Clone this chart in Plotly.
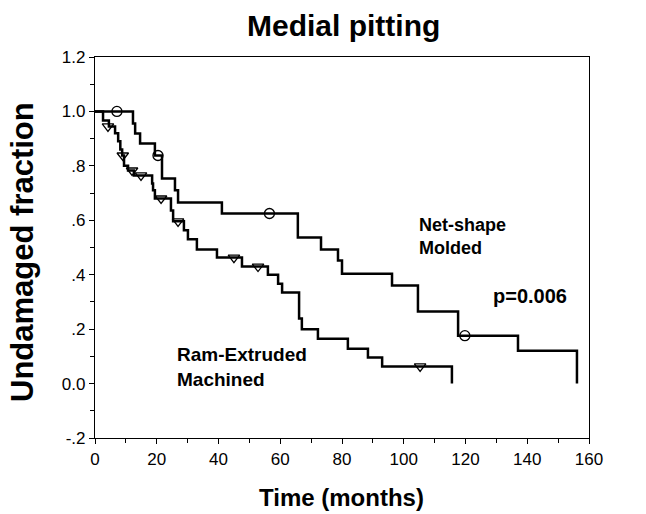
import plotly.graph_objects as go

# Net-shape Molded (Kaplan-Meier steps)
molded_t = [0, 12.3, 13.0, 14.6, 19.4, 21.7, 25.9, 26.9, 41.1, 65.7, 73.2, 78.7, 80.0, 96.2, 104.6, 117.6, 137.0, 156.1]
molded_v = [1.0, 0.956, 0.919, 0.882, 0.838, 0.754, 0.71, 0.665, 0.625, 0.537, 0.493, 0.452, 0.404, 0.36, 0.265, 0.176, 0.121, 0.0]
molded_cens_t = [7.1, 20.4, 56.5, 119.8]
molded_cens_v = [1.0, 0.838, 0.625, 0.176]

# Ram-Extruded Machined
ram_t = [0, 2.6, 4.5, 6.5, 7.5, 8.2, 8.8, 9.4, 10.7, 12.6, 18.5, 18.8, 19.4, 24.6, 25.3, 28.8, 30.1, 33.0, 39.5,
         47.6, 56.0, 59.3, 60.6, 66.1, 67.0, 72.2, 81.9, 88.4, 93.0, 115.6]
ram_v = [1.0, 0.967, 0.945, 0.92, 0.89, 0.86, 0.838, 0.80, 0.783, 0.765, 0.735, 0.71, 0.68, 0.636, 0.596, 0.563, 0.53, 0.493, 0.463,
         0.43, 0.40, 0.367, 0.335, 0.239, 0.2, 0.165, 0.128, 0.096, 0.063, 0.0]
ram_cens_t = [4.2, 9.0, 12.0, 14.9, 21.4, 26.9, 45.0, 52.8, 105.3]
ram_cens_v = [0.945, 0.838, 0.783, 0.765, 0.68, 0.596, 0.463, 0.43, 0.063]

y_tickvals = [-0.2, 0.0, 0.2, 0.4, 0.6, 0.8, 1.0, 1.2]
y_ticktext = ["-.2", "0.0", ".2", ".4", ".6", ".8", "1.0", "1.2"]
x_tickvals = [0, 20, 40, 60, 80, 100, 120, 140, 160]

FONT = "Liberation Sans, Arial, sans-serif"

fig = go.Figure()
line = dict(color="black", width=2.5, shape="hv")
fig.add_trace(go.Scatter(x=molded_t, y=molded_v, mode="lines", line=line, showlegend=False))
fig.add_trace(go.Scatter(x=ram_t, y=ram_v, mode="lines", line=line, showlegend=False))
fig.add_trace(go.Scatter(x=molded_cens_t, y=molded_cens_v, mode="markers",
                         marker=dict(symbol="circle-open", size=10, color="black", line=dict(width=1.3)),
                         showlegend=False))
fig.add_trace(go.Scatter(x=ram_cens_t, y=ram_cens_v, mode="markers",
                         marker=dict(symbol="triangle-down-open", size=10, color="black", line=dict(width=1.3)),
                         showlegend=False))

axis_common = dict(showgrid=False, zeroline=False, showline=True, linecolor="black", linewidth=1.2,
                   mirror=True, ticks="outside", ticklen=5, tickwidth=1, tickcolor="black",
                   tickfont=dict(family=FONT, size=17, color="black"))
fig.update_xaxes(range=[0, 160], tickvals=x_tickvals,
                 minor=dict(ticks="outside", dtick=10, ticklen=4, tickcolor="black"), **axis_common)
fig.update_yaxes(range=[-0.2, 1.2], tickvals=y_tickvals, ticktext=y_ticktext,
                 minor=dict(ticks="outside", dtick=0.1, ticklen=4, tickcolor="black"), **axis_common)

annots = [
    dict(text="<b>Medial pitting</b>", x=0.504, y=1.082, xref="paper", yref="paper", showarrow=False,
         xanchor="center", yanchor="middle", font=dict(family=FONT, size=30, color="black")),
    dict(text="<b>Time (months)</b>", x=0.498, y=-0.155, xref="paper", yref="paper", showarrow=False,
         xanchor="center", yanchor="middle", font=dict(family=FONT, size=24, color="black")),
    dict(text="<b>Undamaged fraction</b>", x=-0.148, y=0.488, xref="paper", yref="paper", showarrow=False,
         xanchor="center", yanchor="middle", textangle=-90, font=dict(family=FONT, size=31, color="black")),
    dict(text="<b>Net-shape<br>Molded</b>", x=104.3, y=0.539, xref="x", yref="y", showarrow=False,
         xanchor="left", yanchor="middle", align="left", font=dict(family=FONT, size=18, color="black")),
    dict(text="<b>p=0.006</b>", x=140.9, y=0.32, xref="x", yref="y", showarrow=False,
         xanchor="center", yanchor="middle", font=dict(family=FONT, size=20, color="black")),
    dict(text="<b>Ram-Extruded<br>Machined</b>", x=25.9, y=0.061, xref="x", yref="y", showarrow=False,
         xanchor="left", yanchor="middle", align="left", font=dict(family=FONT, size=19, color="black")),
]
fig.update_layout(width=646, height=514, margin=dict(l=95, r=57, t=57, b=76),
                  paper_bgcolor="white", plot_bgcolor="white", annotations=annots)
fig.write_html("out.html")
